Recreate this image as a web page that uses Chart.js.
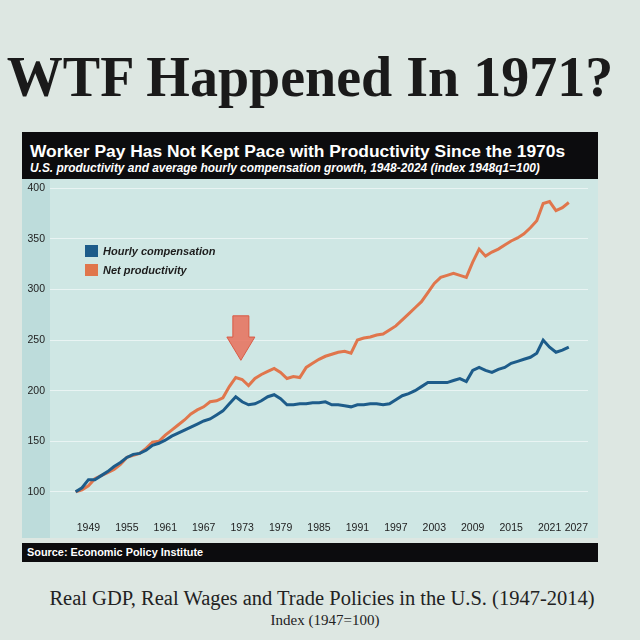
<!DOCTYPE html>
<html>
<head>
<meta charset="utf-8">
<script src="https://cdn.jsdelivr.net/npm/chart.js@4.4.1/dist/chart.umd.min.js"></script>
<style>
  html, body { margin: 0; padding: 0; }
  body { width: 640px; height: 640px; background: #dde7e2; position: relative; overflow: hidden; font-family: "Liberation Sans", Arial, sans-serif; }
  #bigTitle { position: absolute; left: 0; top: 45px; width: 620px; text-align: center; font-family: "Liberation Serif", serif; font-weight: bold; font-size: 56px; color: #1a1a1a; white-space: nowrap; }
  #titleBar { position: absolute; left: 22px; top: 132px; width: 576px; height: 47px; background: #0c0c0e; color: #fff; }
  #titleBar .t1 { position: absolute; left: 8px; top: 9px; font-weight: bold; font-size: 17.4px; white-space: nowrap; }
  #titleBar .t2 { position: absolute; left: 8px; top: 29px; font-weight: bold; font-style: italic; font-size: 11.9px; white-space: nowrap; }
  #panel { position: absolute; left: 22px; top: 179px; width: 576px; height: 359px; background: linear-gradient(to right, #bddcdb 0px, #bddcdb 28px, #cfe7e4 28px); }
  #chartBox { position: absolute; left: 0; top: -9px; width: 576px; height: 368px; }
  #legend { position: absolute; left: 63px; top: 66px; font-weight: bold; font-style: italic; font-size: 11px; color: #1d1d1d; }
  #legend div { height: 19px; line-height: 13px; white-space: nowrap; }
  #legend span { display: inline-block; width: 13px; height: 12px; vertical-align: -2px; margin-right: 5px; }
  #sourceBar { position: absolute; left: 22px; top: 543px; width: 576px; height: 19px; background: #0c0c0e; color: #fff; font-weight: bold; font-size: 10.9px; line-height: 19px; }
  #sourceBar span { margin-left: 5px; }
  #caption { position: absolute; left: 0; top: 587px; width: 644px; text-align: center; font-family: "Liberation Serif", serif; font-size: 20.5px; color: #222; white-space: nowrap; }
  #caption2 { position: absolute; left: 0; top: 612px; width: 650px; text-align: center; font-family: "Liberation Serif", serif; font-size: 15px; color: #222; }
</style>
</head>
<body>
<div id="bigTitle">WTF Happened In 1971?</div>
<div id="titleBar">
  <div class="t1">Worker Pay Has Not Kept Pace with Productivity Since the 1970s</div>
  <div class="t2">U.S. productivity and average hourly compensation growth, 1948-2024 (index 1948q1=100)</div>
</div>
<div id="panel">
  <div id="chartBox"><canvas id="payChart"></canvas></div>
  <div id="legend">
    <div><span style="background:#1d5c8a"></span>Hourly compensation</div>
    <div><span style="background:#e0764c"></span>Net productivity</div>
  </div>
</div>
<div id="sourceBar"><span>Source: Economic Policy Institute</span></div>
<div id="caption">Real GDP, Real Wages and Trade Policies in the U.S. (1947-2014)</div>
<div id="caption2">Index (1947=100)</div>

<script>
// jaren zoals ze op de as staan
const years = [];
for (let y = 1947; y <= 2024; y++) years.push(y);

const hourlyComp = [
  100, 104, 112, 112, 116, 120, 125, 129, 134, 137,
  138, 141, 146, 148, 151, 155, 158, 161, 164, 167,
  170, 172, 176, 180, 187, 194, 189, 186, 187, 190,
  194, 196, 192, 186, 186, 187, 187, 188, 188, 189,
  186, 186, 185, 184, 186, 186, 187, 187, 186, 187,
  191, 195, 197, 200, 204, 208, 208, 208, 208, 210,
  212, 209, 220, 223, 220, 218, 221, 223, 227, 229,
  231, 233, 237, 250, 243, 238, 240, 243
];

const netProductivity = [
  100, 102, 106, 113, 116, 119, 122, 127, 134, 136,
  138, 143, 149, 150, 156, 161, 166, 171, 177, 181,
  184, 189, 190, 193, 204, 213, 211, 205, 212, 216,
  219, 222, 218, 212, 214, 213, 223, 227, 231, 234,
  236, 238, 239, 237, 250, 252, 253, 255, 256, 260,
  264, 270, 276, 282, 288, 297, 306, 312, 314, 316,
  314, 312, 327, 340, 333, 337, 340, 344, 348, 351,
  355, 361, 368, 385, 387, 378, 381, 386
];

const xTicks = [1943, 1949, 1955, 1961, 1967, 1973, 1979, 1985, 1991, 1997, 2003, 2009, 2015, 2021, 2027];
const yTicks = [100, 150, 200, 250, 300, 350, 400];

// pijl boven 1973
const arrowYear = 1972.8;
const arrowTop = 274;
const arrowHead = 253;
const arrowTip = 230;

const toPoints = vals => vals.map((v, i) => ({ x: years[i], y: v }));

const arrowPlugin = {
  id: 'arrow',
  afterDatasetsDraw(chart) {
    const { ctx, scales } = chart;
    const cx = scales.x.getPixelForValue(arrowYear);
    const yTop = scales.y.getPixelForValue(arrowTop);
    const yHead = scales.y.getPixelForValue(arrowHead);
    const yTip = scales.y.getPixelForValue(arrowTip);
    ctx.save();
    ctx.beginPath();
    ctx.moveTo(cx - 8, yTop);
    ctx.lineTo(cx + 8, yTop);
    ctx.lineTo(cx + 8, yHead);
    ctx.lineTo(cx + 14, yHead);
    ctx.lineTo(cx, yTip);
    ctx.lineTo(cx - 14, yHead);
    ctx.lineTo(cx - 8, yHead);
    ctx.closePath();
    ctx.fillStyle = 'rgba(232,110,90,0.85)';
    ctx.fill();
    ctx.strokeStyle = '#d85a44';
    ctx.lineWidth = 1;
    ctx.stroke();
    ctx.restore();
  }
};

new Chart(document.getElementById('payChart'), {
  type: 'line',
  data: {
    datasets: [
      {
        label: 'Hourly compensation',
        data: toPoints(hourlyComp),
        borderColor: '#1d5c8a',
        borderWidth: 3,
        pointRadius: 0,
        tension: 0
      },
      {
        label: 'Net productivity',
        data: toPoints(netProductivity),
        borderColor: '#e0764c',
        borderWidth: 3,
        pointRadius: 0,
        tension: 0
      }
    ]
  },
  options: {
    responsive: true,
    maintainAspectRatio: false,
    animation: false,
    layout: { padding: { top: 0, right: 10, bottom: 0, left: 0 } },
    plugins: { legend: { display: false }, tooltip: { enabled: false } },
    scales: {
      x: {
        type: 'linear',
        min: 1943,
        max: 2027,
        afterBuildTicks: axis => { axis.ticks = xTicks.map(v => ({ value: v })); },
        afterFit: axis => { axis.height = 28; },
        grid: { display: false },
        border: { display: false },
        ticks: {
          align: 'inner',
          padding: 4,
          maxRotation: 0,
          autoSkip: false,
          color: '#222',
          font: { family: 'Liberation Sans', size: 10.5 },
          callback: v => (v === 1943 ? '' : String(v))
        }
      },
      y: {
        min: 82,
        max: 407,
        afterBuildTicks: axis => { axis.ticks = yTicks.map(v => ({ value: v })); },
        afterFit: axis => { axis.width = 28; },
        grid: { color: 'rgba(255,255,255,0.55)', drawTicks: false },
        border: { display: false },
        ticks: {
          padding: 5,
          color: '#222',
          font: { family: 'Liberation Sans', size: 10.5 }
        }
      }
    }
  },
  plugins: [arrowPlugin]
});
</script>
</body>
</html>
